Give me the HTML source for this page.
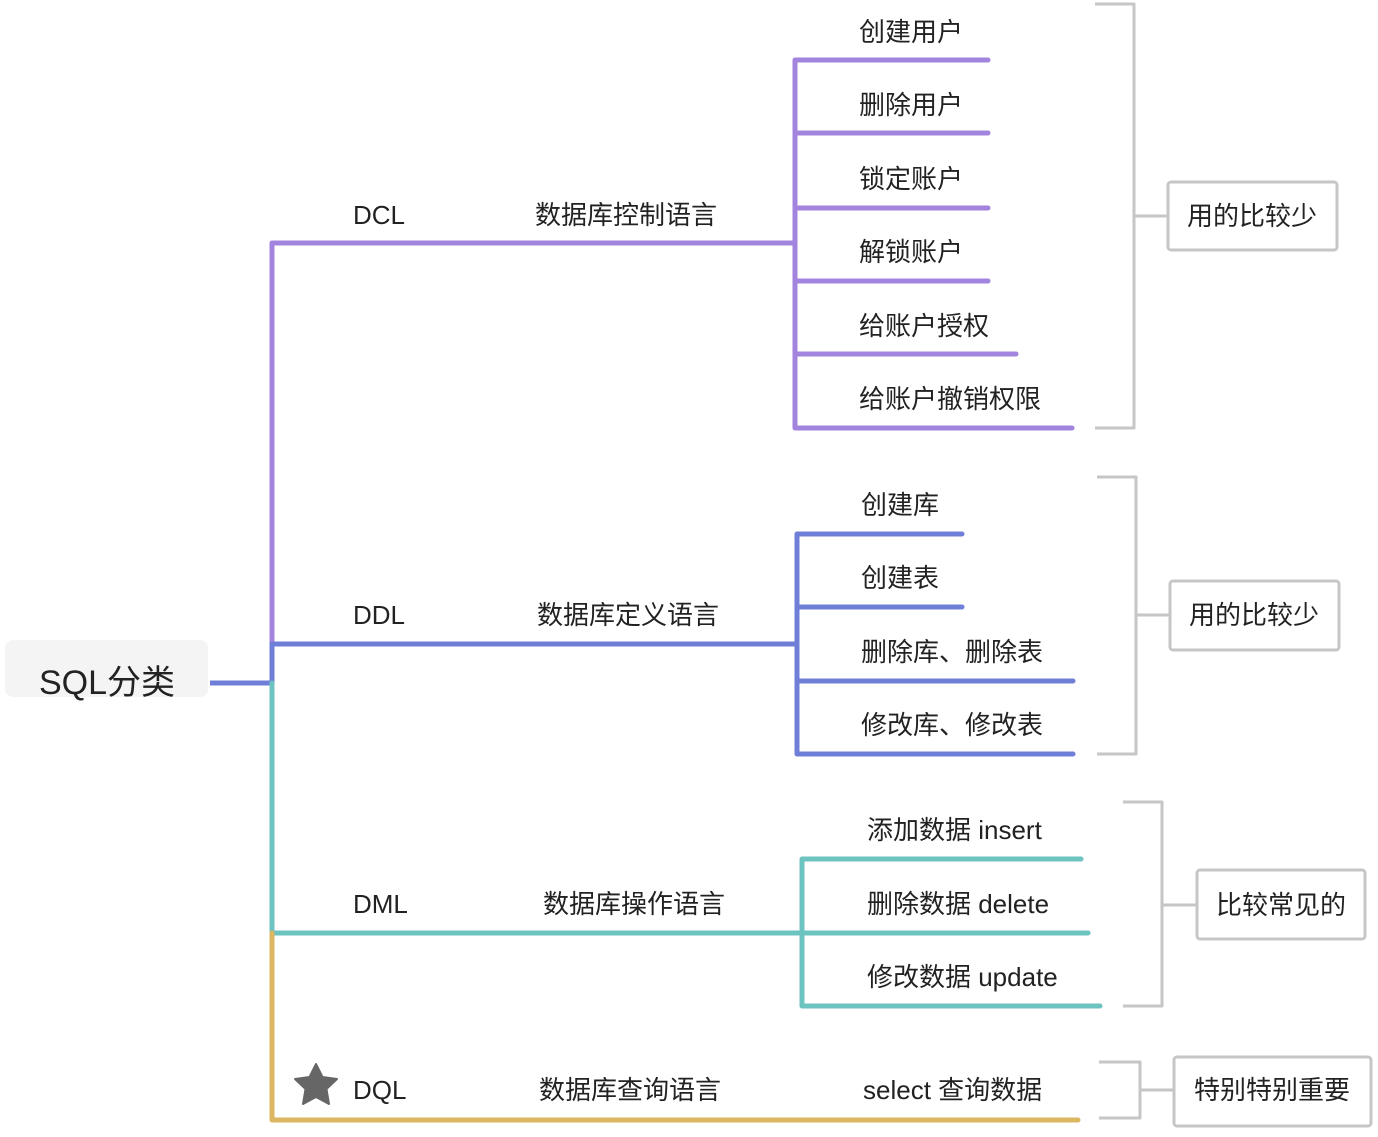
<!DOCTYPE html>
<html><head><meta charset="utf-8"><style>
html,body{margin:0;padding:0;background:#fff;}
svg text{font-family:"Liberation Sans","Noto Sans CJK SC",sans-serif;fill:#222;dominant-baseline:central;}
</style></head><body>
<svg width="1378" height="1132" viewBox="0 0 1378 1132" xmlns="http://www.w3.org/2000/svg">
<g fill="none" stroke-width="5" stroke-linecap="round" stroke-linejoin="round">
<!-- root -->
<rect x="5" y="640" width="203" height="57" rx="8" fill="#f4f4f4" stroke="none"/>
<line x1="210" y1="683" x2="272" y2="683" stroke="#6f7fd8" stroke-linecap="butt"/>
<!-- trunk -->
<polyline points="272,683 272,243 795,243" stroke="#a283dd"/>
<polyline points="272,683 272,644 797,644" stroke="#6f7fd8"/>
<polyline points="272,683 272,933 802,933" stroke="#6cc3c0"/>
<polyline points="272,933 272,1120 1078,1120" stroke="#dcb660"/>
<!-- DCL children -->
<g stroke="#a283dd">
<polyline points="988,60 795,60 795,428 1072,428"/>
<line x1="795" y1="133" x2="988" y2="133"/>
<line x1="795" y1="208" x2="988" y2="208"/>
<line x1="795" y1="281" x2="988" y2="281"/>
<line x1="795" y1="354" x2="1016" y2="354"/>
</g>
<!-- DDL children -->
<g stroke="#6f7fd8">
<polyline points="962,534 797,534 797,754 1073,754"/>
<line x1="797" y1="607" x2="962" y2="607"/>
<line x1="797" y1="681" x2="1073" y2="681"/>
</g>
<!-- DML children -->
<g stroke="#6cc3c0">
<polyline points="1081,859 802,859 802,1006 1100,1006"/>
<line x1="802" y1="933" x2="1088" y2="933"/>
</g>
<!-- brackets -->
<g stroke="#c6c6c6" stroke-width="3" stroke-linecap="butt">
<polyline points="1095,4 1134,4 1134,428 1095,428"/>
<line x1="1134" y1="216" x2="1168" y2="216"/>
<rect x="1168" y="182" width="169" height="68" rx="3"/>
<polyline points="1097,477 1136,477 1136,754 1097,754"/>
<line x1="1136" y1="615" x2="1170" y2="615"/>
<rect x="1170" y="581" width="169" height="69" rx="3"/>
<polyline points="1123,802 1162,802 1162,1006 1123,1006"/>
<line x1="1162" y1="905" x2="1197" y2="905"/>
<rect x="1197" y="870" width="168" height="69" rx="3"/>
<polyline points="1099,1062 1140,1062 1140,1118 1099,1118"/>
<line x1="1140" y1="1090" x2="1174" y2="1090"/>
<rect x="1174" y="1057" width="197" height="69" rx="3"/>
</g>
</g>
<!-- star -->
<polygon points="316,1064 322.5,1077 337,1079 326.5,1089 329,1104 316,1097 303,1104 305.5,1089 295,1079 309.5,1077" fill="#666" stroke="#666" stroke-width="2" stroke-linejoin="round"/>
<g font-size="26">
<text x="107" y="683" font-size="34" text-anchor="middle">SQL分类</text>
<text x="353" y="215">DCL</text>
<text x="535" y="215">数据库控制语言</text>
<text x="353" y="615">DDL</text>
<text x="537" y="615">数据库定义语言</text>
<text x="353" y="904">DML</text>
<text x="543" y="904">数据库操作语言</text>
<text x="353" y="1090">DQL</text>
<text x="539" y="1090">数据库查询语言</text>
<text x="863" y="1090">select 查询数据</text>
<text x="859" y="32">创建用户</text>
<text x="859" y="105">删除用户</text>
<text x="859" y="179">锁定账户</text>
<text x="859" y="252">解锁账户</text>
<text x="859" y="326">给账户授权</text>
<text x="859" y="399">给账户撤销权限</text>
<text x="861" y="505">创建库</text>
<text x="861" y="578">创建表</text>
<text x="861" y="652">删除库、删除表</text>
<text x="861" y="725">修改库、修改表</text>
<text x="867" y="830">添加数据 insert</text>
<text x="867" y="904">删除数据 delete</text>
<text x="867" y="977">修改数据 update</text>
<text x="1252" y="216" text-anchor="middle">用的比较少</text>
<text x="1254" y="615" text-anchor="middle">用的比较少</text>
<text x="1281" y="905" text-anchor="middle">比较常见的</text>
<text x="1272" y="1090" text-anchor="middle">特别特别重要</text>
</g>
</svg>
</body></html>
